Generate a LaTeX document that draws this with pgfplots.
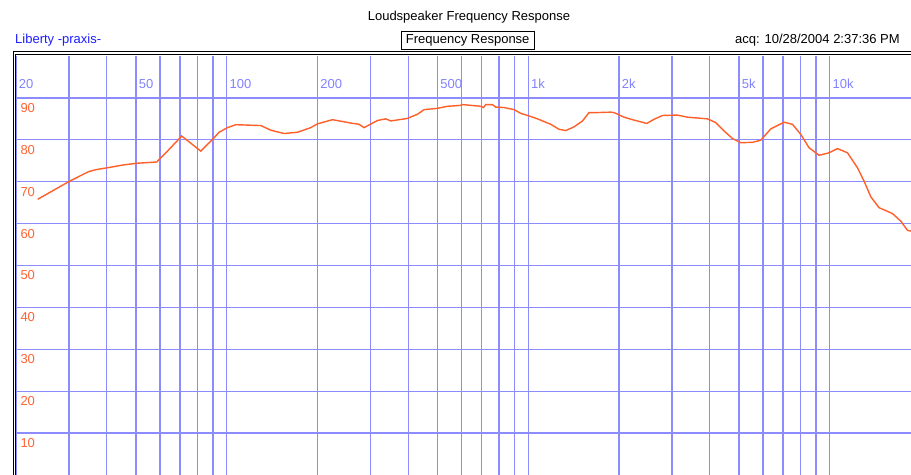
\documentclass[border=0pt]{standalone}
\usepackage{pgfplots}
\pgfplotsset{compat=1.18}
\usepackage{fontspec}
\setmainfont{Liberation Sans}
\definecolor{gridblue}{RGB}{140,140,255}
\definecolor{lblblue}{RGB}{130,130,255}
\definecolor{curve}{RGB}{255,95,40}
\definecolor{ylbl}{RGB}{255,100,50}
\definecolor{namblue}{RGB}{30,30,255}
\newcommand{\fs}{\fontsize{13bp}{15bp}\selectfont}
\begin{document}
\begin{tikzpicture}
\useasboundingbox (0bp,0bp) rectangle (911bp,475bp);
\fill[white] (0bp,0bp) rectangle (911bp,475bp);
\begin{axis}[
  at={(16bp,0bp)}, anchor=south west,
  scale only axis, width=895bp, height=419bp,
  xmode=log, xmin=20, xmax=18600, ymin=0, ymax=100,
  axis line style={draw=none},
  grid=major, major grid style={gridblue, line width=1.3bp},
  major tick length=0pt,
  /pgf/number format/assume math mode=true,
  xtick={20,30,40,50,60,70,80,90,100,200,300,400,500,600,700,800,900,1000,2000,3000,4000,5000,6000,7000,8000,9000,10000},
  xticklabels={20,,,50,,,,,100,200,,,500,,,,,1k,2k,,,5k,,,,,10k},
  xticklabel pos=upper,
  xticklabel style={anchor=west, inner sep=0pt, xshift=2.6bp, yshift=-28bp, text=lblblue, font=\fs},
  ytick={10,20,30,40,50,60,70,80,90},
  yticklabels={10,20,30,40,50,60,70,80,90},
  yticklabel style={anchor=west, inner sep=0pt, xshift=4.3bp, yshift=-10bp, text=ylbl, font=\fs},
  clip=true,
]
\addplot[curve, line width=1.4bp] coordinates {
(23.6,65.8) (29.9,70.0) (34.8,72.4) (37.0,72.9) (40.0,73.3) (45.4,74.0) (50.3,74.4)
(58.6,74.7) (60.4,75.7) (63.2,77.1) (70.9,80.9) (82.0,77.3) (90.8,80.5) (94.3,81.8)
(100.5,82.9) (107.1,83.6) (129.7,83.4) (139.9,82.3) (154.9,81.5) (171.6,81.8) (189.9,82.9)
(199.9,83.8) (224.2,84.8) (257.8,84.0) (274.7,83.7) (285.4,82.9) (316.1,84.6) (336.8,85.0)
(349.9,84.5) (397.5,85.1) (429.1,86.1) (451.3,87.2) (499.7,87.5) (539.5,88.0) (593.9,88.2)
(605,88.4) (695.8,88.0) (710.3,87.7) (722.8,88.4) (760.9,88.4) (780.2,87.8) (831.6,87.7)
(897.5,87.2) (944.3,86.3) (1006,85.7) (1073,85.0) (1187,83.7) (1266,82.5) (1332,82.2)
(1419,83.1) (1513,84.5) (1591,86.5) (1696,86.5) (1877,86.6) (1925,86.5) (2078,85.4)
(2243,84.7) (2472,83.9) (2614,84.9) (2786,85.8) (3125,85.9) (3373,85.4) (3929,85.0)
(4188,84.1) (4462,82.1) (4757,80.3) (5068,79.3) (5541,79.4) (5903,79.9) (6373,82.6)
(7054,84.2) (7521,83.7) (8014,81.3) (8537,78.1) (9215,76.3) (9947,76.9) (10610,77.9)
(11450,76.9) (12360,73.3) (13000,70.1) (13680,66.4) (14570,63.8) (16140,62.4) (17200,60.6)
(18100,58.4) (18600,58.2)
};
\end{axis}
% double frame
\draw[black, line width=1bp] (13bp,0bp) -- (13bp,423bp) -- (911bp,423bp);
\draw[black, line width=1bp] (15.5bp,0bp) -- (15.5bp,420bp) -- (911bp,420bp);
% texts
\node[anchor=base, inner sep=0pt, font=\fs] at (469bp,454.5bp) {Loudspeaker Frequency Response};
\node[anchor=base west, inner sep=0pt, font=\fs, text=namblue] at (15bp,431bp) {Liberty -praxis-};
\node[draw=black, line width=0.9bp, inner xsep=4.5bp, inner ysep=0pt, minimum height=17.5bp, font=\fs] at (467.7bp,434.5bp) {Frequency Response};
\node[anchor=base west, inner sep=0pt, font=\fs] at (735bp,431bp) {acq: 10/28/2004 2:37:36 PM};
\end{tikzpicture}
\end{document}
